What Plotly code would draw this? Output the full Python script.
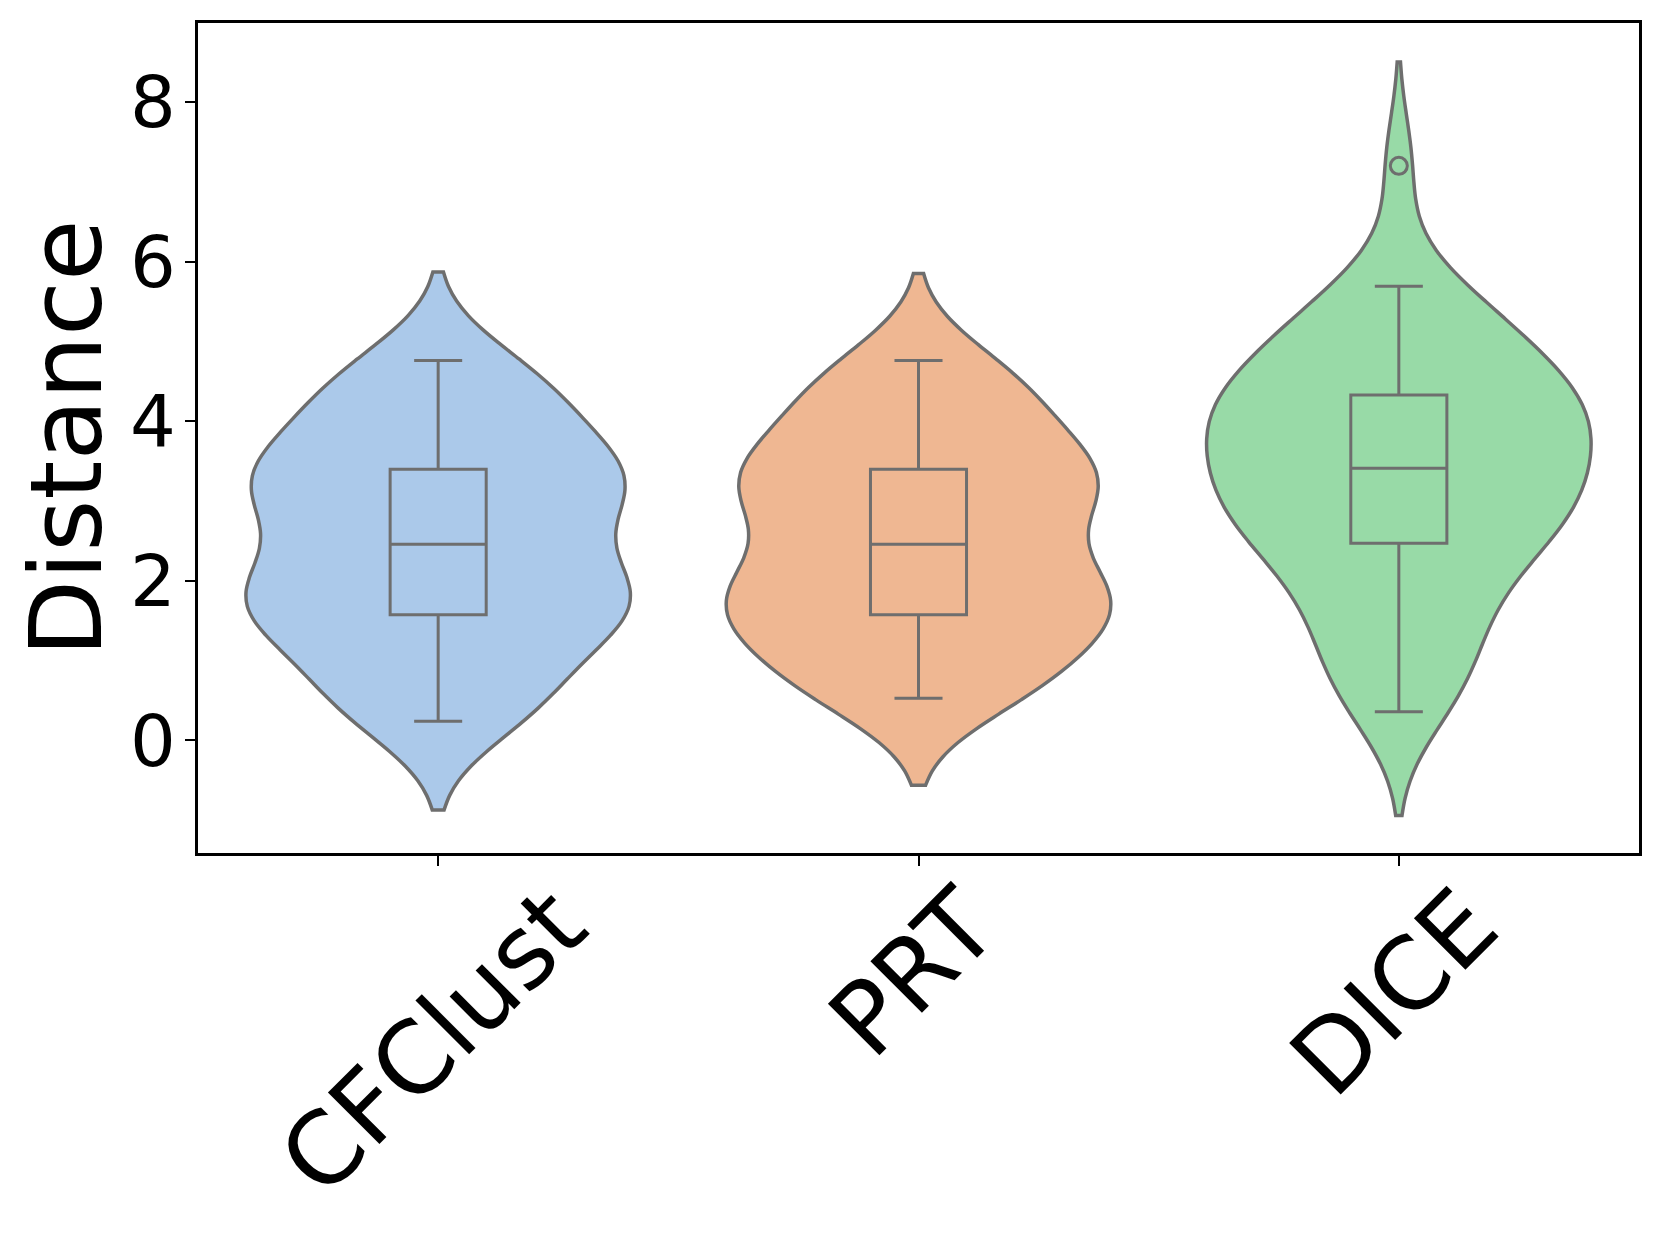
import numpy as np
import plotly.graph_objects as go

# ---- data ----
categories = ["CFClust", "PRT", "DICE"]

cfclust = [0.24, 0.45, 0.80, 1.15, 1.50, 1.60, 1.72, 1.85, 2.00, 2.38,
           2.54, 2.95, 3.15, 3.28, 3.38, 3.46, 3.90, 4.18, 4.45, 4.76]

prt = [0.53, 0.65, 0.90, 1.20, 1.50, 1.60, 1.72, 1.85, 2.00, 2.38,
       2.54, 2.95, 3.15, 3.28, 3.38, 3.46, 3.90, 4.18, 4.45, 4.76]

dice = [0.36, 0.52, 0.78, 1.05, 1.30, 1.53, 1.75, 1.96, 2.17, 2.38,
        2.50, 2.60, 2.70, 2.80, 2.90, 3.00, 3.10, 3.19, 3.28, 3.36,
        3.46, 3.62, 3.76, 3.88, 3.98, 4.06, 4.13, 4.19, 4.25, 4.30,
        4.42, 4.55, 4.70, 4.86, 5.02, 5.18, 5.34, 5.50, 5.69, 7.20]

bandwidths = [0.555, 0.545, 0.65]
fill_colors = ["#abc9ea", "#efb792", "#98daa7"]
y_tick_values = [0, 2, 4, 6, 8]
y_label = "Distance"

series = [cfclust, prt, dice]
LINE = "#6e6e6e"
FONT = "DejaVu Sans, Liberation Sans, sans-serif"


def box_stats(values):
    a = np.sort(np.asarray(values, dtype=float))
    q1, med, q3 = np.percentile(a, [25, 50, 75])
    iqr = q3 - q1
    lo = a[a >= q1 - 1.5 * iqr].min()
    hi = a[a <= q3 + 1.5 * iqr].max()
    out = a[(a < lo) | (a > hi)]
    return q1, med, q3, lo, hi, out


fig = go.Figure()

for i, (vals, bw, col) in enumerate(zip(series, bandwidths, fill_colors)):
    fig.add_trace(go.Violin(
        x=[i] * len(vals), y=vals,
        bandwidth=bw, spanmode="soft", scalemode="width", width=0.8,
        points=False, box_visible=False, meanline_visible=False,
        fillcolor=col, opacity=1,
        line=dict(color=LINE, width=3.5),
        showlegend=False, hoverinfo="skip",
    ))

for i, vals in enumerate(series):
    q1, med, q3, lo, hi, out = box_stats(vals)
    fig.add_trace(go.Box(
        x=[i], q1=[q1], median=[med], q3=[q3],
        lowerfence=[lo], upperfence=[hi],
        width=0.2, whiskerwidth=0.5,
        fillcolor="rgba(0,0,0,0)",
        line=dict(color=LINE, width=3),
        boxpoints=False, showlegend=False, hoverinfo="skip",
    ))
    if len(out):
        fig.add_trace(go.Scatter(
            x=[i] * len(out), y=out, mode="markers",
            marker=dict(symbol="circle", size=17, color="rgba(0,0,0,0)",
                        line=dict(color=LINE, width=3)),
            showlegend=False, hoverinfo="skip",
        ))

for i, name in enumerate(categories):
    fig.add_annotation(
        x=i, xref="x", y=0, yref="paper", yshift=-10, xshift=-5,
        text=name, textangle=-45, showarrow=False,
        xanchor="center", yanchor="top",
        font=dict(family=FONT, size=100, color="black"),
    )

fig.update_layout(
    width=1660, height=1240,
    margin=dict(l=190, r=29, t=12, b=395),
    paper_bgcolor="white", plot_bgcolor="white",
    violinmode="overlay", boxmode="overlay",
    font=dict(family=FONT, color="black"),
)

fig.update_xaxes(
    range=[-0.5, 2.5], tickvals=[0, 1, 2], ticktext=["", "", ""],
    showgrid=False, zeroline=False,
    showline=True, linecolor="black", linewidth=2.5, mirror=True,
    ticks="outside", ticklen=10, tickwidth=2, tickcolor="black",
)
fig.update_yaxes(
    range=[-1.41, 8.99], tickvals=y_tick_values,
    ticktext=[str(v) for v in y_tick_values],
    showgrid=False, zeroline=False,
    showline=True, linecolor="black", linewidth=2.5, mirror=True,
    ticks="outside", ticklen=10, tickwidth=2, tickcolor="black",
    tickfont=dict(family=FONT, size=72, color="black"),
    ticklabelstandoff=-5,
    title=dict(text=y_label, font=dict(family=FONT, size=100, color="black"),
               standoff=18),
)

fig.write_html("out.html")
